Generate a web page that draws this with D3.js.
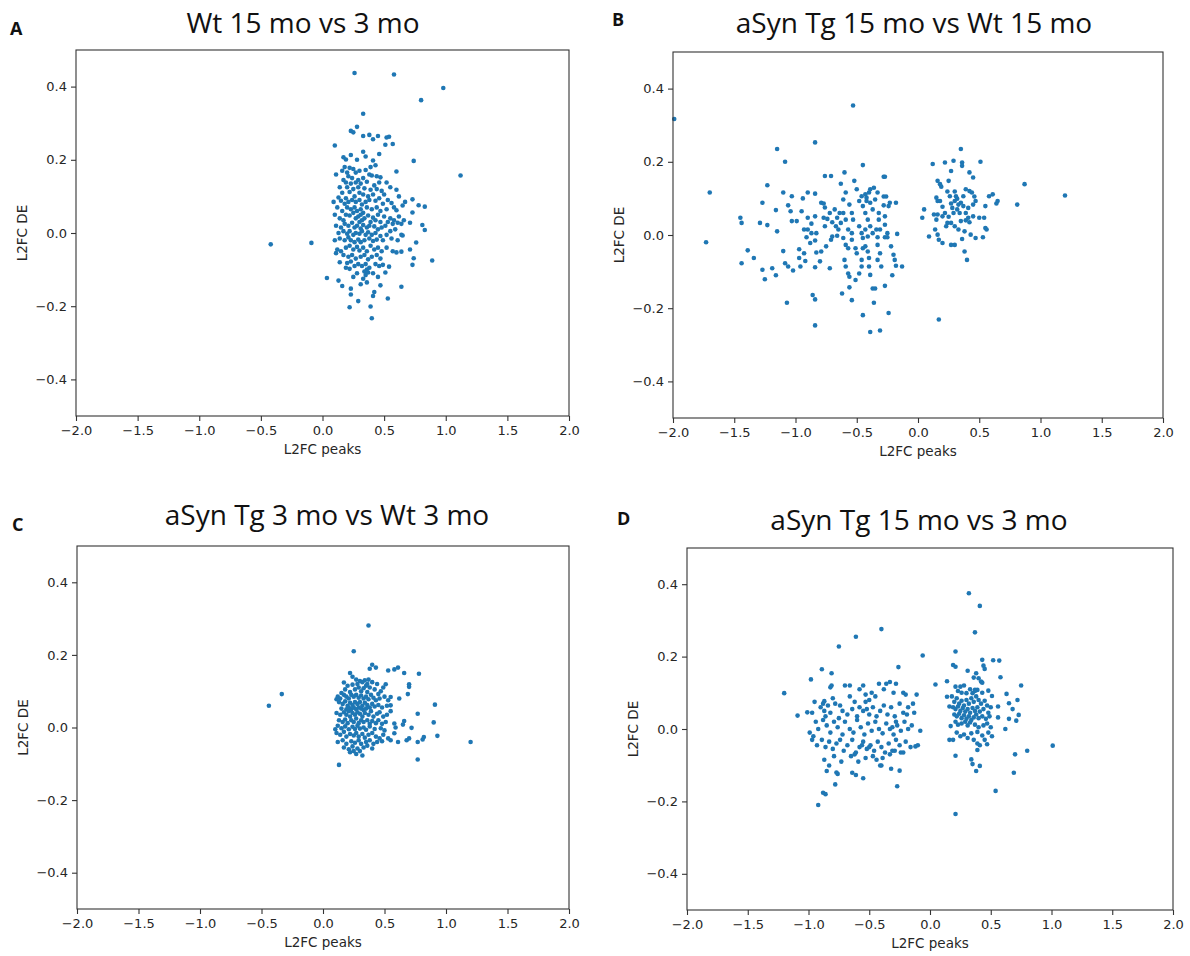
<!DOCTYPE html>
<html>
<head>
<meta charset="utf-8">
<script src="https://cdn.jsdelivr.net/npm/d3@7"></script>
<style>
  body { margin: 0; background: #fff; }
  svg { display: block; }
  .tick text { font-family: "DejaVu Sans", sans-serif; font-size: 13px; fill: #262626; }
  .tick line { stroke: #333; }
  .axlabel { font-family: "DejaVu Sans", sans-serif; font-size: 13.5px; fill: #262626; }
  .title { font-family: "Open Sans", sans-serif; font-size: 28px; fill: #111; }
  .letter { font-family: "Open Sans", sans-serif; font-size: 18px; font-weight: bold; fill: #111; }
</style>
</head>
<body>
<svg id="chart" width="1190" height="956"></svg>
<script>
// Four L2FC scatter panels (peaks vs DE)

var titles = ["Wt 15 mo vs 3 mo", "aSyn Tg 15 mo vs Wt 15 mo", "aSyn Tg 3 mo vs Wt 3 mo", "aSyn Tg 15 mo vs 3 mo"]
  , letters = ["A", "B", "C", "D"]
  , xTicks = [-2.0, -1.5, -1.0, -0.5, 0.0, 0.5, 1.0, 1.5, 2.0]
  , yTicks = [-0.4, -0.2, 0.0, 0.2, 0.4]
  , xDomain = [-2, 2]
  , yDomain = [-0.5, 0.5]
  , xLabel = "L2FC peaks"
  , yLabel = "L2FC DE"
  ;

// [L2FC peaks, L2FC DE]
var ptsA = [
  [0.26,0.437],[0.58,0.433],[0.98,0.396],[0.80,0.363],[0.33,0.326],[0.28,0.29],[0.23,0.279],[0.25,0.275],
  [0.33,0.265],[0.38,0.268],[0.41,0.256],[0.45,0.265],[0.52,0.261],[0.54,0.263],[0.51,0.241],[0.57,0.243],
  [0.10,0.239],[0.46,0.216],[0.23,0.213],[0.74,0.197],[1.12,0.157],[0.33,0.222],[0.35,0.209],[0.28,0.20],
  [0.41,0.198],[0.17,0.207],[0.19,0.201],[0.60,0.168],[0.11,0.16],
  [0.18,0.18],[0.22,0.178],[0.25,0.175],[0.30,0.17],[0.20,0.165],[0.16,0.17],[0.27,0.165],[0.35,0.172],
  [0.39,0.18],[0.43,0.185],[0.38,0.16],[0.44,0.155],[0.47,0.152],[0.40,0.157],[0.21,0.155],[0.24,0.15],
  [0.29,0.145],[0.33,0.15],[0.17,0.145],[0.19,0.138],[0.23,0.135],[0.27,0.138],[0.31,0.135],[0.36,0.14],
  [0.42,0.13],[0.46,0.138],[0.52,0.138],[0.14,0.125],[0.20,0.125],[0.25,0.12],[0.29,0.125],[0.34,0.122],
  [0.39,0.118],[0.44,0.12],[0.55,0.125],[0.48,0.115],[0.22,0.112],[0.16,0.11],[0.30,0.11],[0.33,0.105],
  [0.37,0.10],[0.41,0.105],[0.50,0.105],[0.60,0.118],[0.62,0.10],[0.26,0.10],[0.19,0.095],[0.13,0.097],
  [0.09,0.085],[0.12,0.07],[0.15,0.088],[0.18,0.08],[0.21,0.085],[0.24,0.09],[0.27,0.085],[0.30,0.09],
  [0.32,0.078],[0.35,0.085],[0.38,0.09],[0.43,0.088],[0.46,0.095],[0.49,0.08],[0.53,0.09],[0.56,0.082],
  [0.58,0.07],[0.65,0.075],[0.20,0.07],[0.23,0.065],[0.26,0.07],[0.28,0.06],[0.31,0.065],[0.33,0.055],
  [0.36,0.07],[0.40,0.065],[0.44,0.07],[0.47,0.06],[0.52,0.065],[0.60,0.062],[0.16,0.06],[0.19,0.05],
  [0.22,0.048],[0.25,0.055],[0.29,0.045],[0.31,0.05],[0.34,0.04],[0.37,0.048],[0.41,0.042],[0.45,0.05],
  [0.50,0.045],[0.55,0.04],[0.58,0.035],[0.62,0.045],[0.14,0.04],[0.17,0.035],[0.27,0.04],[0.30,0.03],
  [0.32,0.035],[0.39,0.03],[0.43,0.035],[0.47,0.03],[0.53,0.03],[0.57,0.025],[0.61,0.028],[0.64,0.025],
  [0.11,0.02],[0.15,0.015],[0.18,0.025],[0.21,0.02],[0.24,0.028],[0.26,0.015],[0.28,0.02],[0.31,0.012],
  [0.33,0.022],[0.36,0.015],[0.38,0.02],[0.42,0.018],[0.45,0.01],[0.48,0.015],[0.51,0.02],[0.55,0.005],
  [0.59,0.01],[0.13,0.0],[0.17,0.005],[0.20,-0.002],[0.22,0.005],[0.25,-0.005],[0.27,0.0],[0.30,-0.002],
  [0.32,0.005],[0.35,-0.005],[0.37,0.002],[0.40,-0.005],[0.43,0.0],[0.47,-0.008],[0.52,-0.005],[0.10,-0.02],
  [0.14,-0.015],[0.18,-0.02],[0.21,-0.012],[0.23,-0.02],[0.26,-0.025],[0.29,-0.018],[0.31,-0.025],[0.34,-0.02],
  [0.38,-0.015],[0.41,-0.022],[0.44,-0.018],[0.49,-0.02],[0.56,-0.015],[0.64,-0.005],[0.61,-0.02],
  [0.12,-0.045],[0.15,-0.05],[0.19,-0.04],[0.22,-0.035],[0.25,-0.045],[0.28,-0.038],[0.30,-0.048],[0.33,-0.04],
  [0.36,-0.05],[0.39,-0.035],[0.42,-0.045],[0.45,-0.04],[0.48,-0.05],[0.52,-0.04],[0.57,-0.05],[0.11,-0.055],
  [0.17,-0.06],[0.21,-0.065],[0.24,-0.06],[0.27,-0.07],[0.31,-0.065],[0.34,-0.06],[0.37,-0.072],[0.40,-0.065],
  [0.44,-0.06],[0.47,-0.07],[0.14,-0.08],[0.20,-0.082],[0.23,-0.078],[0.26,-0.09],[0.29,-0.085],[0.32,-0.09],
  [0.35,-0.085],[0.36,-0.10],[0.38,-0.095],[0.43,-0.085],[0.46,-0.09],[0.19,-0.095],[0.22,-0.098],[0.34,-0.105],
  [0.37,-0.108],[0.35,-0.115],[0.41,-0.11],[0.28,-0.11],[0.25,-0.12],[0.33,-0.125],[0.45,-0.12],
  [0.89,-0.075],[-0.42,-0.031],[-0.09,-0.027],[0.036,-0.123],[0.13,-0.13],[0.16,-0.145],[0.23,-0.152],[0.23,-0.168],
  [0.22,-0.203],[0.29,-0.186],[0.39,-0.201],[0.40,-0.233],[0.41,-0.172],[0.42,-0.161],[0.47,-0.143],[0.53,-0.179],
  [0.64,-0.147],[0.51,-0.108],[0.54,-0.092],[0.49,-0.087],[0.73,-0.087],[0.74,-0.069],[0.71,-0.045],[0.76,-0.026],
  [0.83,0.008],[0.81,0.022],[0.78,0.076],[0.83,0.072],[0.73,0.092],[0.73,0.056],[0.67,0.085],[0.71,0.028],
  [0.65,-0.007],[0.64,-0.051],[0.60,-0.053],[0.66,0.035],[0.10,0.05],[0.31,-0.14],[0.36,-0.135]
];

var ptsB = [
  [-1.99,0.317],[-0.53,0.354],[-0.84,0.253],[-1.15,0.235],[-1.085,0.20],[-1.70,0.116],[-1.73,-0.02],
  [-1.45,0.047],[-1.44,0.033],[-1.44,-0.077],[-1.39,-0.042],[-1.34,-0.063],[-1.27,0.088],[-1.23,0.136],
  [-1.29,0.033],[-1.23,0.027],[-1.16,0.068],[-1.15,0.01],[-1.10,0.116],[-1.06,0.081],[-1.03,0.106],
  [-1.04,0.065],[-1.03,0.038],[-0.99,0.038],[-1.10,-0.044],[-1.085,-0.077],[-1.06,-0.086],[-1.02,-0.097],
  [-0.97,-0.063],[-0.97,-0.039],[-0.93,-0.05],[-0.92,-0.071],[-0.96,-0.086],[-1.27,-0.095],[-1.25,-0.121],
  [-1.19,-0.091],[-1.16,-0.11],[-1.07,-0.185],[-0.86,-0.164],[-0.84,-0.176],[-0.84,-0.247],[-0.95,0.065],
  [-0.94,0.10],[-0.90,0.116],[-0.84,0.113],[-0.90,0.047],[-0.87,0.031],[-0.84,0.051],[-0.87,0.005],
  [-0.90,0.015],[-0.83,0.005],[-0.84,-0.015],[-0.91,-0.006],[-0.83,-0.048],[-0.84,-0.088],[-0.79,-0.045],
  [-0.80,-0.072],[-0.79,0.088],[-0.76,0.161],[-0.71,0.161],[-0.77,0.086],[-0.76,0.075],[-0.72,0.06],
  [-0.76,0.024],[-0.75,-0.031],[-0.71,-0.013],[-0.70,-0.004],[-0.66,-0.002],[-0.72,-0.091],[-0.68,0.07],
  [-0.64,0.06],[-0.63,0.14],[-0.60,0.171],[-0.59,0.116],[-0.61,0.097],[-0.61,0.06],[-0.59,0.042],
  [-0.63,0.033],[-0.65,0.015],[-0.57,0.015],[-0.61,-0.008],[-0.59,-0.027],[-0.57,-0.036],[-0.60,-0.068],
  [-0.59,-0.086],[-0.57,-0.105],[-0.56,-0.114],[-0.62,-0.16],[-0.56,-0.143],[-0.54,-0.178],[-0.52,0.148],
  [-0.56,0.083],[-0.54,0.06],[-0.53,0.042],[-0.54,0.005],[-0.54,-0.013],[-0.51,-0.036],[-0.50,-0.05],
  [-0.51,-0.123],[-0.48,-0.105],[-0.46,-0.086],[-0.46,-0.068],[-0.45,0.191],[-0.46,0.106],[-0.45,0.079],
  [-0.43,0.06],[-0.48,0.024],[-0.46,0.005],[-0.43,0.015],[-0.45,-0.008],[-0.45,-0.036],[-0.43,-0.031],
  [-0.41,-0.045],[-0.40,0.116],[-0.39,0.125],[-0.36,0.129],[-0.42,0.093],[-0.39,0.088],[-0.37,0.07],
  [-0.41,0.042],[-0.39,0.024],[-0.41,-0.004],[-0.37,0.005],[-0.34,0.015],[-0.40,-0.063],[-0.40,-0.086],
  [-0.39,-0.109],[-0.37,-0.146],[-0.35,-0.146],[-0.36,-0.185],[-0.45,-0.219],[-0.39,-0.265],[-0.31,-0.261],
  [-0.24,-0.213],[-0.27,-0.139],[-0.33,0.116],[-0.35,0.097],[-0.32,0.06],[-0.32,0.042],[-0.31,0.015],
  [-0.33,-0.006],[-0.33,-0.027],[-0.31,-0.05],[-0.33,-0.068],[-0.30,-0.086],[-0.28,0.159],[-0.27,0.159],
  [-0.28,0.105],[-0.26,0.105],[-0.28,0.081],[-0.24,0.079],[-0.27,0.051],[-0.27,0.028],[-0.25,0.005],
  [-0.27,-0.006],[-0.25,-0.006],[-0.22,-0.031],[-0.20,-0.054],[-0.19,-0.068],[-0.18,-0.084],[-0.21,-0.11],
  [-0.17,0.003],[-0.18,0.088],[-0.13,-0.086],[-0.23,0.088],[-0.88,-0.022],[-0.93,0.015],[-0.77,0.047],
  [-0.70,0.035],[-0.67,0.024],[-0.74,0.044],[-0.66,0.047],[-0.50,0.125],[-0.48,0.093],[-0.43,0.111],
  [-0.42,0.102],
  [0.12,0.194],[0.22,0.198],[0.29,0.203],[0.35,0.235],[0.36,0.198],[0.36,0.189],[0.42,0.171],[0.45,0.157],
  [0.51,0.20],[0.05,0.07],[0.035,0.047],[0.09,-0.004],[0.16,0.148],[0.18,0.139],[0.19,0.132],[0.25,0.148],
  [0.27,0.175],[0.15,0.102],[0.16,0.093],[0.13,0.056],[0.16,0.056],[0.20,0.051],[0.15,0.042],[0.14,0.015],
  [0.16,0.001],[0.17,-0.013],[0.20,-0.022],[0.27,-0.027],[0.30,-0.027],[0.24,0.119],[0.26,0.106],[0.27,0.086],
  [0.28,0.074],[0.29,0.06],[0.30,0.093],[0.31,0.106],[0.30,0.119],[0.32,0.099],[0.32,0.07],[0.33,0.083],
  [0.34,0.06],[0.35,0.088],[0.37,0.079],[0.35,0.038],[0.37,0.106],[0.39,0.125],[0.42,0.12],[0.44,0.116],
  [0.46,0.105],[0.47,0.093],[0.45,0.083],[0.41,0.074],[0.39,0.06],[0.41,0.047],[0.39,0.04],[0.42,0.035],
  [0.45,0.051],[0.50,0.047],[0.54,0.047],[0.55,0.019],[0.56,0.015],[0.53,-0.006],[0.47,-0.008],[0.43,0.001],
  [0.38,0.01],[0.36,-0.011],[0.33,0.015],[0.30,0.024],[0.27,0.033],[0.24,0.033],[0.23,0.024],[0.25,0.05],
  [0.38,-0.045],[0.40,-0.068],[0.55,0.079],[0.58,0.106],[0.61,0.111],[0.64,0.086],[0.65,0.093],[0.81,0.083],
  [0.87,0.139],[1.20,0.108],[0.17,-0.231],[0.18,0.093],[0.20,0.077],[0.22,0.06]
];

var ptsC = [
  [0.37,0.281],[0.25,0.21],[-0.44,0.06],[-0.335,0.092],[0.13,-0.103],[1.20,-0.04],[0.91,0.063],[0.93,-0.023],
  [0.90,0.014],[0.77,-0.088],[0.78,0.148],[0.77,0.038],[0.82,-0.026],[0.81,-0.033],[0.77,-0.04],[0.72,-0.001],
  [0.69,0.092],[0.70,0.112],[0.70,0.119],[0.66,0.15],[0.61,0.165],[0.58,0.16],[0.53,0.157],[0.62,0.08],
  [0.66,0.018],[0.65,0.008],[0.61,-0.04],[0.55,-0.035],[0.58,-0.016],[0.59,0.0],[0.58,0.011],[0.55,0.084],
  [0.55,0.061],[0.51,0.119],[0.40,0.173],[0.43,0.165],[0.38,0.162],[0.70,-0.03],[0.68,-0.035],[0.34,0.13],
  [0.37,0.132],[0.36,0.12],
  [0.17,0.124],[0.22,0.15],[0.24,0.14],[0.27,0.132],[0.30,0.128],[0.28,0.12],[0.32,0.125],[0.35,0.115],
  [0.40,0.125],[0.44,0.12],[0.20,0.115],[0.24,0.118],[0.29,0.11],[0.33,0.108],[0.38,0.11],[0.18,0.105],
  [0.26,0.105],[0.31,0.10],[0.42,0.105],[0.47,0.10],[0.49,0.11],[0.15,0.095],[0.22,0.098],[0.36,0.098],
  [0.45,0.092],
  [0.12,0.085],[0.11,0.078],[0.14,0.08],[0.17,0.09],[0.19,0.085],[0.21,0.08],[0.23,0.09],[0.25,0.085],
  [0.27,0.09],[0.29,0.082],[0.31,0.088],[0.33,0.08],[0.35,0.085],[0.37,0.078],[0.39,0.09],[0.41,0.082],
  [0.43,0.075],[0.46,0.08],[0.50,0.085],[0.53,0.075],[0.13,0.07],[0.16,0.065],[0.18,0.072],[0.20,0.06],
  [0.22,0.068],[0.24,0.062],[0.26,0.07],[0.28,0.065],[0.30,0.07],[0.32,0.06],[0.34,0.068],[0.36,0.062],
  [0.38,0.055],[0.40,0.065],[0.42,0.058],[0.45,0.062],[0.48,0.055],[0.52,0.06],[0.15,0.052],[0.19,0.05],
  [0.21,0.055],[0.23,0.05],[0.25,0.055],[0.27,0.05],[0.29,0.055],[0.31,0.052],[0.33,0.048],[0.35,0.052],
  [0.11,0.04],[0.14,0.035],[0.17,0.042],[0.19,0.035],[0.21,0.045],[0.22,0.03],[0.24,0.04],[0.26,0.035],
  [0.28,0.042],[0.30,0.038],[0.32,0.03],[0.34,0.04],[0.37,0.035],[0.39,0.045],[0.41,0.03],[0.44,0.038],
  [0.46,0.042],[0.49,0.03],[0.52,0.035],[0.55,0.045],[0.13,0.02],[0.16,0.015],[0.18,0.022],[0.20,0.012],
  [0.23,0.02],[0.25,0.015],[0.27,0.025],[0.29,0.012],[0.31,0.02],[0.33,0.015],[0.36,0.02],[0.38,0.01],
  [0.40,0.018],[0.43,0.012],[0.45,0.02],[0.48,0.01],[0.51,0.015],[0.10,-0.005],[0.12,0.005],[0.15,-0.002],
  [0.18,0.003],[0.21,-0.005],[0.24,0.002],[0.26,-0.004],[0.28,0.005],[0.30,-0.003],[0.33,0.0],[0.35,-0.006],
  [0.38,0.003],[0.42,-0.004],[0.47,-0.002],[0.50,-0.008],
  [0.11,-0.015],[0.14,-0.02],[0.17,-0.012],[0.19,-0.025],[0.22,-0.018],[0.25,-0.022],[0.27,-0.015],[0.29,-0.025],
  [0.32,-0.018],[0.34,-0.028],[0.37,-0.02],[0.40,-0.015],[0.43,-0.025],[0.46,-0.03],[0.49,-0.02],[0.53,-0.03],
  [0.12,-0.04],[0.16,-0.035],[0.19,-0.045],[0.23,-0.038],[0.26,-0.042],[0.29,-0.035],[0.31,-0.045],[0.35,-0.04],
  [0.38,-0.035],[0.41,-0.045],[0.44,-0.04],[0.48,-0.038],[0.17,-0.055],[0.21,-0.06],[0.24,-0.052],[0.28,-0.058],
  [0.30,-0.065],[0.33,-0.055],[0.36,-0.05],[0.40,-0.058],[0.22,-0.068],[0.27,-0.073],[0.32,-0.077],[0.25,-0.065]
];

var ptsD = [
  [0.32,0.375],[0.41,0.34],[0.37,0.267],[-0.40,0.276],[-0.61,0.255],[-0.75,0.228],[-0.06,0.203],[-1.20,0.099],
  [-1.09,0.037],[-1.01,0.046],[-0.98,0.137],[-0.89,0.165],[-0.81,0.154],[-0.26,0.171],[0.21,0.214],[0.19,0.177],
  [0.21,0.172],[0.43,0.191],[0.52,0.19],[0.57,0.189],[0.44,0.175],[0.45,0.166],[0.58,0.143],[0.75,0.12],
  [0.045,0.123],[0.14,0.132],[0.31,0.161],[0.38,0.154],[1.01,-0.046],[0.80,-0.06],[0.70,-0.07],[0.69,-0.121],
  [0.54,-0.171],[0.21,-0.235],[-0.92,-0.21],[-0.88,-0.176],[-0.86,-0.18],[-0.78,-0.153],[-0.85,-0.116],[-0.77,-0.12],
  [-0.76,-0.124],[-0.83,-0.101],[-0.64,-0.121],[-0.61,-0.127],[-0.55,-0.136],[-0.27,-0.158],[-0.25,-0.115],[-0.32,-0.11],
  [-0.41,-0.101],[-0.40,-0.101],[0.21,-0.074],[0.34,-0.084],[0.35,-0.097],[0.38,-0.116],[0.41,-0.102],[0.39,-0.058],
  [0.47,-0.042],[0.62,0.0],[0.65,0.028],[0.71,0.023],[0.65,0.071],[0.72,0.08],[0.73,0.039],[0.68,0.055],
  [0.63,0.097],[0.56,0.062],[0.56,0.032],[0.48,0.106],[0.51,0.091],[0.42,0.131],[0.39,0.108],[0.37,0.108],
  [0.35,0.099],[0.30,0.099],[0.25,0.117],[0.21,0.117],[0.14,0.089],[0.16,0.062],[0.17,0.008],[0.16,-0.03],
  [0.18,0.09],[0.20,0.075],[0.22,0.085],[0.24,0.07],[0.26,0.078],[0.28,0.065],[0.30,0.08],[0.32,0.07],
  [0.34,0.085],[0.36,0.075],[0.38,0.09],[0.40,0.08],[0.42,0.07],[0.45,0.078],[0.47,0.065],[0.50,0.06],
  [0.19,0.06],[0.21,0.055],[0.23,0.062],[0.25,0.05],[0.27,0.058],[0.29,0.048],[0.31,0.055],[0.33,0.045],
  [0.35,0.058],[0.37,0.05],[0.39,0.06],[0.41,0.048],[0.44,0.055],[0.48,0.045],[0.20,0.04],[0.22,0.035],
  [0.24,0.042],[0.26,0.03],[0.28,0.038],[0.30,0.028],[0.32,0.035],[0.34,0.025],[0.36,0.032],[0.38,0.04],
  [0.40,0.03],[0.43,0.035],[0.46,0.028],[0.49,0.035],[0.21,0.02],[0.23,0.012],[0.26,0.015],[0.29,0.02],
  [0.31,0.01],[0.33,0.018],[0.37,0.012],[0.40,0.005],[0.44,0.01],[0.47,0.015],[0.50,0.005],[0.22,-0.01],
  [0.25,-0.02],[0.28,-0.015],[0.31,-0.025],[0.34,-0.012],[0.36,-0.03],[0.39,-0.008],[0.43,-0.018],[0.45,-0.03],
  [0.48,-0.01],[0.51,-0.02],[0.19,-0.03],[0.41,-0.045],[0.39,-0.04],[0.23,0.105],[0.26,0.10],[0.33,0.11],
  [0.37,0.105],[0.43,0.10],[0.28,0.12],[0.40,0.14],[0.43,0.128],[0.36,0.142],
  [-0.95,0.075],[-0.88,0.07],[-0.82,0.115],[-0.80,0.085],[-0.74,0.065],[-0.70,0.12],[-0.66,0.09],[-0.62,0.075],
  [-0.58,0.11],[-0.55,0.12],[-0.53,0.095],[-0.50,0.08],[-0.45,0.09],[-0.42,0.125],[-0.38,0.11],[-0.36,0.125],
  [-0.33,0.13],[-0.30,0.10],[-0.28,0.125],[-0.22,0.10],[-0.20,0.095],[-0.11,0.095],[-0.66,0.12],[-0.48,0.10],
  [-0.81,0.12],[-0.87,0.077],
  [-0.97,0.045],[-0.90,0.06],[-0.87,0.05],[-0.84,0.065],[-0.82,0.045],[-0.78,0.07],[-0.75,0.03],[-0.72,0.05],
  [-0.68,0.04],[-0.64,0.055],[-0.60,0.035],[-0.58,0.06],[-0.55,0.05],[-0.52,0.055],[-0.50,0.04],[-0.47,0.06],
  [-0.44,0.035],[-0.41,0.05],[-0.38,0.065],[-0.35,0.04],[-0.32,0.06],[-0.29,0.035],[-0.25,0.07],[-0.22,0.045],
  [-0.18,0.06],[-0.14,0.07],[-0.13,0.045],[-0.19,0.04],[-0.53,0.075],[-0.86,0.035],
  [-0.99,-0.01],[-0.94,0.02],[-0.92,0.0],[-0.88,0.025],[-0.85,0.01],[-0.82,-0.01],[-0.79,0.02],[-0.76,0.005],
  [-0.72,-0.015],[-0.70,0.02],[-0.66,0.0],[-0.63,-0.01],[-0.60,0.025],[-0.57,0.005],[-0.54,-0.015],[-0.51,0.015],
  [-0.48,-0.005],[-0.45,0.02],[-0.42,0.0],[-0.39,-0.012],[-0.36,0.015],[-0.33,0.0],[-0.30,-0.015],[-0.27,0.01],
  [-0.24,-0.005],[-0.21,0.02],[-0.18,0.0],[-0.15,0.01],[-0.08,-0.005],[-0.96,-0.02],[-0.28,0.02],[-0.31,0.005],
  [-0.97,-0.03],[-0.93,-0.045],[-0.89,-0.03],[-0.86,-0.05],[-0.83,-0.035],[-0.80,-0.055],[-0.77,-0.04],[-0.74,-0.03],
  [-0.71,-0.06],[-0.68,-0.045],[-0.64,-0.03],[-0.61,-0.065],[-0.58,-0.05],[-0.55,-0.035],[-0.52,-0.055],[-0.49,-0.045],
  [-0.46,-0.06],[-0.43,-0.035],[-0.40,-0.05],[-0.37,-0.065],[-0.34,-0.04],[-0.31,-0.06],[-0.28,-0.03],[-0.25,-0.045],
  [-0.22,-0.065],[-0.20,-0.035],[-0.16,-0.05],[-0.12,-0.048],[-0.10,-0.045],[-0.56,-0.045],[-0.50,-0.05],
  [-0.87,-0.085],[-0.79,-0.075],[-0.73,-0.09],[-0.65,-0.075],[-0.62,-0.07],[-0.59,-0.09],[-0.53,-0.08],[-0.47,-0.075],
  [-0.44,-0.085],[-0.39,-0.08],[-0.33,-0.07],[-0.29,-0.06],[-0.24,-0.065]
];

// where each panel sits on the page
var panels = [
  { pts: ptsA, left: 76,  right: 569,  top: 50,  bottom: 416, titleX: 303, titleY: 33,  letterX: 10,  letterY: 35 },
  { pts: ptsB, left: 673, right: 1163, top: 52,  bottom: 418, titleX: 914, titleY: 33,  letterX: 612, letterY: 26 },
  { pts: ptsC, left: 77,  right: 569,  top: 546, bottom: 909, titleX: 327, titleY: 525, letterX: 12,  letterY: 531 },
  { pts: ptsD, left: 687, right: 1173, top: 548, bottom: 910, titleX: 919, titleY: 530, letterX: 617, letterY: 525 }
];

var svg = d3.select("#chart")
  , fmt = d3.format(".1f")
  ;

function drawPanel (p, i) {
  var x = d3.scaleLinear().domain(xDomain).range([p.left, p.right])
    , y = d3.scaleLinear().domain(yDomain).range([p.bottom, p.top])
    , g = svg.append("g")
    ;

  // Axes
  var xa = g.append("g")
            .attr("transform", "translate(0," + p.bottom + ")")
            .call(d3.axisBottom(x).tickValues(xTicks).tickFormat(fmt).tickSize(5).tickPadding(5));
  var ya = g.append("g")
            .attr("transform", "translate(" + p.left + ",0)")
            .call(d3.axisLeft(y).tickValues(yTicks).tickFormat(fmt).tickSize(5).tickPadding(4));
  xa.select(".domain").remove();
  ya.select(".domain").remove();
  g.selectAll(".tick line").attr("stroke-width", 1.1);

  // Points
  g.append("g")
   .selectAll("circle")
   .data(p.pts)
   .enter().append("circle")
   .attr("cx", function (d) { return x(d[0]); })
   .attr("cy", function (d) { return y(d[1]); })
   .attr("r", 2.3)
   .attr("fill", "#1f77b4");

  // Frame
  g.append("rect")
   .attr("x", p.left).attr("y", p.top)
   .attr("width", p.right - p.left).attr("height", p.bottom - p.top)
   .attr("fill", "none").attr("stroke", "#333").attr("stroke-width", 1.1);

  // Labels
  g.append("text").attr("class", "axlabel")
   .attr("x", (p.left + p.right) / 2).attr("y", p.bottom + 38)
   .attr("text-anchor", "middle").text(xLabel);
  g.append("text").attr("class", "axlabel")
   .attr("transform", "translate(" + (p.left - 49) + "," + ((p.top + p.bottom) / 2) + ") rotate(-90)")
   .attr("text-anchor", "middle").text(yLabel);

  g.append("text").attr("class", "title")
   .attr("x", p.titleX).attr("y", p.titleY)
   .attr("text-anchor", "middle").text(titles[i]);
  g.append("text").attr("class", "letter")
   .attr("x", p.letterX).attr("y", p.letterY).text(letters[i]);
}

panels.forEach(drawPanel);
</script>
</body>
</html>
